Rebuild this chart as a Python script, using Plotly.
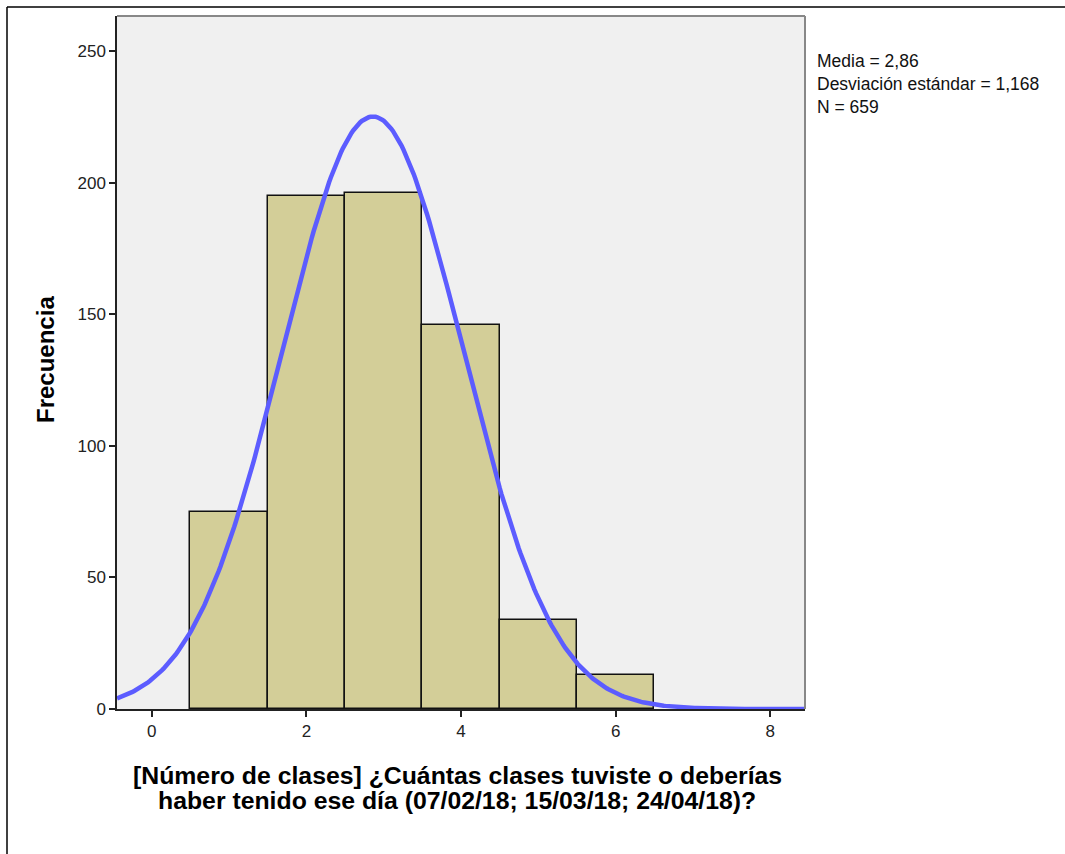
import numpy as np
import plotly.graph_objects as go

# Data
bin_centers = [1, 2, 3, 4, 5, 6]
frequencies = [75, 195, 196, 146, 34, 13]
x_tick_vals = [0, 2, 4, 6, 8]
y_tick_vals = [0, 50, 100, 150, 200, 250]
MEAN = 2.86
SD = 1.168
N = 659
BIN_WIDTH = 1

stats_lines = ["Media = 2,86", "Desviación estándar = 1,168", "N = 659"]
x_title_lines = ["[Número de clases] ¿Cuántas clases tuviste o deberías",
                 "haber tenido ese día (07/02/18; 15/03/18; 24/04/18)?"]
y_title = "Frecuencia"

X_RANGE = [-0.45, 8.45]
Y_RANGE = [0, 263.3]

# Normal curve defined by the displayed statistics
xc = np.linspace(X_RANGE[0], X_RANGE[1], 400)
yc = N * BIN_WIDTH / (SD * np.sqrt(2 * np.pi)) * np.exp(-0.5 * ((xc - MEAN) / SD) ** 2)

W, H = 1065, 854
L, R, T, B = 117, 805, 16, 709  # plot area in pixels
PW, PH = R - L, B - T


def px(x):
    return (x - L) / PW


def py(y):
    return (B - y) / PH


fig = go.Figure()
fig.add_trace(go.Bar(
    x=bin_centers, y=frequencies, width=BIN_WIDTH,
    marker=dict(color="#D3CE98", line=dict(color="#111111", width=1.5)),
    hoverinfo="skip", showlegend=False,
))
fig.add_trace(go.Scatter(
    x=xc, y=yc, mode="lines",
    line=dict(color="#5C5CFF", width=4.5),
    hoverinfo="skip", showlegend=False,
))

font_main = "Liberation Sans, Arial, sans-serif"

annotations = [dict(
    xref="paper", yref="paper", x=px(815), y=py(49), xanchor="left", yanchor="top",
    text="<br>".join(stats_lines), showarrow=False, align="left",
    font=dict(family=font_main, size=17.5, color="#111111"))]
for i, line in enumerate(x_title_lines):
    annotations.append(dict(
        xref="paper", yref="paper", x=px(457), y=py(775 + 25 * i), xanchor="center", yanchor="middle",
        text="<b>" + line + "</b>", showarrow=False,
        font=dict(family=font_main, size=24.8, color="#000000")))
annotations.append(dict(
    xref="paper", yref="paper", x=px(45), y=py(360), xanchor="center", yanchor="middle",
    text="<b>" + y_title + "</b>", showarrow=False, textangle=-90,
    font=dict(family=font_main, size=24, color="#000000")))

fig.update_layout(
    width=W, height=H,
    margin=dict(l=L, r=W - R, t=T, b=H - B),
    paper_bgcolor="white",
    plot_bgcolor="#F0F0F0",
    font=dict(family=font_main, size=17, color="#222222"),
    bargap=0,
    xaxis=dict(
        range=X_RANGE, tickvals=x_tick_vals, ticktext=[str(v) for v in x_tick_vals],
        ticks="outside", ticklen=6, tickwidth=1.5, tickcolor="#222222",
        showgrid=False, zeroline=False,
        showline=True, linecolor="#222222", linewidth=1.5,
        tickfont=dict(size=17, color="#222222"),
    ),
    yaxis=dict(
        range=Y_RANGE, tickvals=y_tick_vals, ticktext=[str(v) for v in y_tick_vals],
        ticks="outside", ticklen=6, tickwidth=1.5, tickcolor="#222222",
        showgrid=False, zeroline=False,
        showline=True, linecolor="#222222", linewidth=1.5,
        tickfont=dict(size=17, color="#222222"),
    ),
    shapes=[
        dict(type="line", xref="paper", yref="paper", x0=0, x1=1, y0=1, y1=1,
             line=dict(color="#888888", width=2)),
        dict(type="line", xref="paper", yref="paper", x0=1, x1=1, y0=0, y1=1,
             line=dict(color="#888888", width=2)),
        dict(type="line", xref="paper", yref="paper", x0=px(7), x1=px(W), y0=py(7), y1=py(7),
             line=dict(color="#000000", width=1.5)),
        dict(type="line", xref="paper", yref="paper", x0=px(7), x1=px(7), y0=py(H), y1=py(7),
             line=dict(color="#000000", width=1.5)),
    ],
    annotations=annotations,
)

fig.write_html("out.html", config={"displayModeBar": False},
               post_script="document.body.style.margin='0';")
